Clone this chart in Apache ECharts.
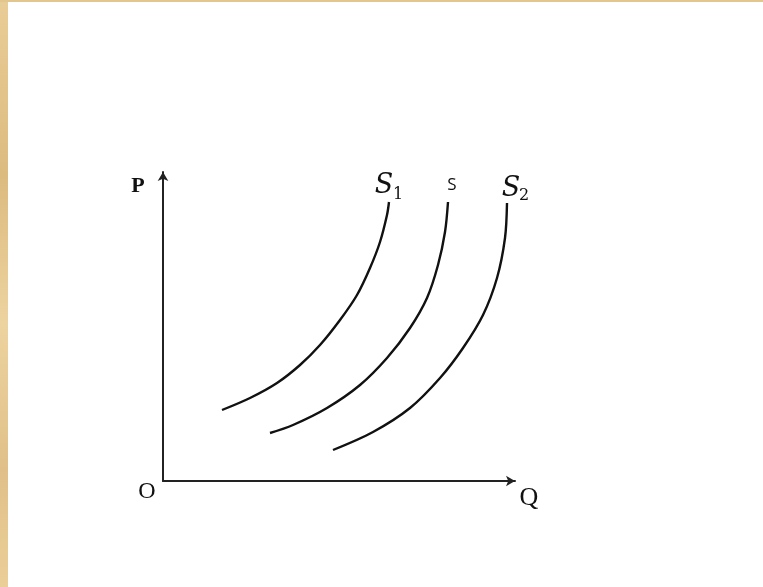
<!DOCTYPE html>
<html>
<head>
<meta charset="utf-8">
<script src="https://cdn.jsdelivr.net/npm/echarts@6/dist/echarts.min.js"></script>
<style>
  html, body { margin: 0; padding: 0; background: #fff; }
  #chart { width: 763px; height: 587px; }
  .edge { position: absolute; background: linear-gradient(180deg, #e9cd96, #dcbb7f 30%, #edd3a0 55%, #e0c088 80%, #ebcf98); }
  #left { left: 0; top: 0; width: 8px; height: 587px; }
  #top { left: 0; top: 0; width: 763px; height: 2px; background: #e3c68e; }
</style>
</head>
<body>
<div id="chart"></div>
<div class="edge" id="left"></div>
<div class="edge" id="top"></div>
<script>
// supply curves (units are arbitrary Q / P)
const s1Q = [59, 87, 114, 137, 157, 177, 194, 207, 217, 224, 226];
const s1P = [71, 83, 98, 116, 136, 161, 186, 213, 239, 266, 279];
const sQ  = [107, 130, 164, 197, 224, 247, 264, 275, 282, 285];
const sP  = [48, 56, 73, 96, 123, 153, 183, 216, 249, 279];
const s2Q = [170, 210, 247, 277, 300, 320, 334, 342, 344];
const s2P = [31, 49, 73, 103, 133, 166, 203, 243, 278];

const qMax = 352;
const pMax = 309;

function pairs(xs, ys) {
  return xs.map((x, i) => [x, ys[i]]);
}

const dom = document.getElementById('chart');
const myChart = echarts.init(dom, null, { renderer: 'canvas' });

function curve(name, xs, ys) {
  return {
    name: name,
    type: 'line',
    data: pairs(xs, ys),
    smooth: 0.33,
    symbol: 'none',
    lineStyle: { color: '#111', width: 2.4 },
    silent: true
  };
}

const option = {
  backgroundColor: '#fff',
  animation: false,
  grid: { left: 163, right: 248, top: 172, bottom: 106 },
  xAxis: {
    type: 'value', min: 0, max: qMax,
    axisLine: { lineStyle: { color: '#222', width: 2 }, symbol: ['none', 'arrow'], symbolSize: [8, 9] },
    axisTick: { show: false }, axisLabel: { show: false }, splitLine: { show: false }
  },
  yAxis: {
    type: 'value', min: 0, max: pMax,
    axisLine: { show: true, lineStyle: { color: '#222', width: 2 }, symbol: ['none', 'arrow'], symbolSize: [8, 9] },
    axisTick: { show: false }, axisLabel: { show: false }, splitLine: { show: false }
  },
  series: [
    curve('S1', s1Q, s1P),
    curve('S', sQ, sP),
    curve('S2', s2Q, s2P)
  ]
};
myChart.setOption(option);

// labels, placed from the data end points
const serif = '"Liberation Serif", "DejaVu Serif", serif';
const top1 = myChart.convertToPixel({ gridIndex: 0 }, [s1Q[s1Q.length - 1], s1P[s1P.length - 1]]);
const top0 = myChart.convertToPixel({ gridIndex: 0 }, [sQ[sQ.length - 1], sP[sP.length - 1]]);
const top2 = myChart.convertToPixel({ gridIndex: 0 }, [s2Q[s2Q.length - 1], s2P[s2P.length - 1]]);
const origin = myChart.convertToPixel({ gridIndex: 0 }, [0, 0]);
const qEnd = myChart.convertToPixel({ gridIndex: 0 }, [qMax, 0]);
const pEnd = myChart.convertToPixel({ gridIndex: 0 }, [0, pMax]);

function txt(x, y, text, size, extra) {
  return {
    type: 'text', x: x, y: y, silent: true,
    style: Object.assign({
      text: text, fontSize: size, fontFamily: serif, fill: '#111',
      align: 'center', verticalAlign: 'middle'
    }, extra || {})
  };
}

myChart.setOption({
  graphic: [
    txt(pEnd[0] - 25, pEnd[1] + 14, 'P', 22, { fontWeight: 'bold' }),
    txt(origin[0] - 16, origin[1] + 11, 'O', 24),
    txt(qEnd[0] + 14, qEnd[1] + 17, 'Q', 26),
    txt(top1[0] - 5, top1[1] - 16, 'S', 27, { fontStyle: 'italic', fontFamily: '"DejaVu Serif", serif' }),
    txt(top1[0] + 9, top1[1] - 7, '1', 16, { fontFamily: '"DejaVu Serif", serif' }),
    txt(top0[0] + 4, top0[1] - 17, 'S', 17, { fontFamily: '"Open Sans", "Liberation Sans", sans-serif' }),
    txt(top2[0] + 4, top2[1] - 14, 'S', 27, { fontStyle: 'italic', fontFamily: '"DejaVu Serif", serif' }),
    txt(top2[0] + 17, top2[1] - 7, '2', 16, { fontFamily: '"DejaVu Serif", serif' })
  ]
});
window.addEventListener('resize', myChart.resize);
</script>
</body>
</html>
